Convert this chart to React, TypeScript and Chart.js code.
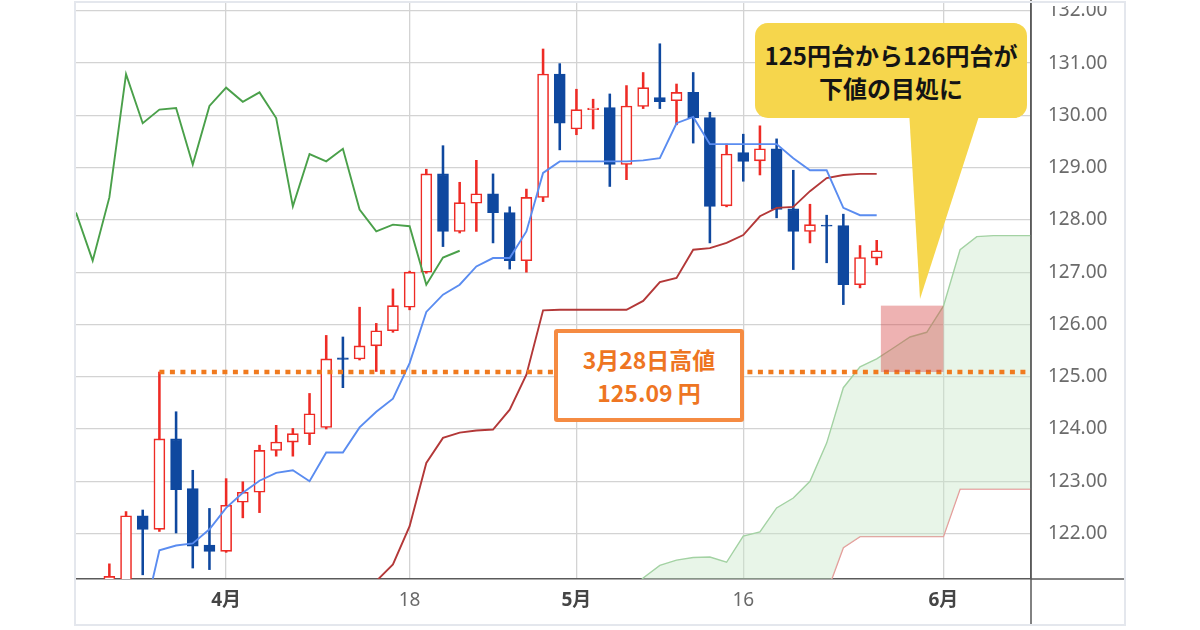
import { useEffect, useRef } from "react";
import { Chart, registerables } from "chart.js";

Chart.register(...registerables);

// ---- data ----
const DATES = [
  "3/21", "3/22", "3/23", "3/24", "3/25", "3/28", "3/29", "3/30", "3/31", "4/1",
  "4/4", "4/5", "4/6", "4/7", "4/8", "4/11", "4/12", "4/13", "4/14", "4/15",
  "4/18", "4/19", "4/20", "4/21", "4/22", "4/25", "4/26", "4/27", "4/28", "4/29",
  "5/2", "5/3", "5/4", "5/5", "5/6", "5/9", "5/10", "5/11", "5/12", "5/13",
  "5/16", "5/17", "5/18", "5/19", "5/20", "5/23", "5/24", "5/25", "5/26", "5/27",
  "5/30", "5/31", "6/1", "6/2", "6/3", "6/6", "6/7", "6/8", "6/9",
];

const CANDLE_START = 2; // first candle: 3/23
const OPEN = [
  120.9, 121.1, 122.34, 122.08, 123.81, 122.86, 121.78, 121.66, 122.6, 122.79,
  123.59, 123.75, 123.91, 124.03, 125.36, 125.34, 125.59, 125.88, 126.33, 127.0,
  128.88, 127.78, 128.32, 128.5, 128.14, 127.22, 128.43, 130.79, 129.74, 130.11,
  130.15, 129.06, 130.17, 130.34, 130.28, 130.44, 129.96, 128.27, 129.29, 129.13,
  129.36, 128.21, 127.78, 127.9, 127.89, 126.76, 127.27,
];
const HIGH = [
  121.42, 122.42, 122.45, 125.09, 124.33, 123.21, 122.48, 123.05, 122.99, 123.69,
  124.07, 124.01, 124.68, 125.79, 125.76, 126.33, 126.02, 126.68, 127.02, 128.97,
  129.42, 128.72, 129.14, 128.88, 128.25, 128.59, 131.27, 130.99, 130.5, 130.31,
  130.41, 130.57, 130.82, 131.37, 130.6, 130.82, 130.06, 129.45, 129.64, 129.8,
  129.55, 128.95, 128.3, 128.09, 128.11, 127.51, 127.61,
];
const LOW = [
  120.6, 120.9, 121.21, 122.04, 122.01, 121.34, 121.31, 121.64, 122.3, 122.4,
  123.48, 123.48, 123.7, 124.0, 124.79, 125.32, 125.1, 125.85, 126.28, 126.98,
  127.49, 127.75, 127.78, 127.56, 127.06, 127.0, 128.35, 129.34, 129.63, 129.74,
  128.64, 128.77, 130.13, 130.13, 129.82, 129.47, 127.56, 128.25, 128.74, 128.86,
  128.04, 127.05, 127.56, 127.18, 126.38, 126.7, 127.14,
];
const CLOSE = [
  121.18, 122.34, 122.08, 123.81, 122.84, 121.76, 121.66, 122.54, 122.79, 123.59,
  123.75, 123.91, 124.29, 125.34, 125.33, 125.59, 125.88, 126.36, 127.0, 128.88,
  127.78, 128.33, 128.5, 128.14, 127.22, 128.43, 130.79, 129.85, 130.11, 130.14,
  129.06, 130.18, 130.53, 130.26, 130.44, 129.95, 128.26, 129.26, 129.12, 129.36,
  128.2, 127.78, 127.91, 127.88, 126.76, 127.28, 127.41,
];

const TENKAN_START = 2;
const TENKAN = [
  119.9, 120.0, 120.3, 121.68, 121.77, 121.81, 122.08, 122.49, 122.78, 123.01,
  123.16, 123.21, 123.0, 123.55, 123.55, 124.03, 124.33, 124.58, 125.26, 126.24,
  126.57, 126.76, 127.11, 127.27, 127.27, 127.78, 128.9, 129.12, 129.12, 129.12,
  129.12, 129.12, 129.14, 129.18, 129.85, 129.97, 129.45, 129.45, 129.45, 129.45,
  129.45, 129.18, 128.95, 128.95, 128.23, 128.09, 128.09,
];

const KIJUN_START = 17;
const KIJUN = [
  120.5, 121.09, 121.41, 122.14, 123.35, 123.83, 123.93, 123.97, 123.99, 124.37,
  125.04, 126.27, 126.28, 126.28, 126.28, 126.28, 126.28, 126.45, 126.81, 126.89,
  127.43, 127.46, 127.56, 127.71, 128.07, 128.23, 128.25, 128.55, 128.8, 128.86,
  128.88, 128.88,
];

const CHIKOU_SHIFT = 25;

const SPAN_START = 30;
const SENKOU_A = [
  120.0, 120.3, 120.5, 120.8, 121.15, 121.39, 121.49, 121.54, 121.55, 121.45,
  121.95, 122.03, 122.49, 122.68, 123.0, 123.73, 124.79, 125.19, 125.34, 125.55,
  125.76, 125.85, 126.35, 127.43, 127.68, 127.7, 127.7, 127.7, 127.7,
];
const SENKOU_B = [
  120.0, 120.0, 120.0, 120.0, 120.0, 120.0, 120.0, 120.0, 120.0, 120.0,
  120.0, 120.0, 120.0, 120.0, 120.0, 120.86, 121.73, 121.94, 121.94, 121.94,
  121.94, 121.94, 121.94, 122.85, 122.85, 122.85, 122.85, 122.85, 122.85,
];

const Y_TICKS = [122, 123, 124, 125, 126, 127, 128, 129, 130, 131, 132];
const X_TICK_DATES = ["4/1", "4/18", "5/2", "5/16", "6/1"];
const X_TICK_LABELS = ["4月", "18", "5月", "16", "6月"];

const HIGH_MARK = 125.09;
const HIGH_MARK_DATE = "3/28";
const ZONE_X = [48.25, 52];
const ZONE_Y = [125.09, 126.36];

const Y_MIN = 121.13;
const Y_MAX = 132.15;
const X_MIN = 0;
const X_MAX = 57.25;

// ---- styles ----
const RED = "#ee2b25";
const BLUE = "#0f489f";
const AXIS = "#5a5a5a";
const GRID = "#d3d3d3";

export default function App() {
  const ref = useRef<HTMLCanvasElement>(null);

  useEffect(() => {
    const xs = OPEN.map((_, i) => i + CANDLE_START);
    const up = OPEN.map((o, i) => CLOSE[i] >= o);
    const wickData = xs.map((x, i) => ({ x, y: [LOW[i], HIGH[i]] }));
    const bodyData = xs.map((x, i) => ({ x, y: [OPEN[i], CLOSE[i]] }));
    const tenkan = TENKAN.map((v, i) => ({ x: i + TENKAN_START, y: v }));
    const kijun = KIJUN.map((v, i) => ({ x: i + KIJUN_START, y: v }));
    const chikou = CLOSE.map((c, i) => ({ x: i + CANDLE_START - CHIKOU_SHIFT, y: c })).filter(
      (p) => p.x >= 0
    );
    const spanA = SENKOU_A.map((v, i) => ({ x: i + SPAN_START, y: v }));
    const spanB = SENKOU_B.map((v, i) => ({ x: i + SPAN_START, y: v }));
    const markX = DATES.indexOf(HIGH_MARK_DATE);
    const markLine = [
      { x: markX, y: HIGH_MARK },
      { x: X_MAX + 1, y: HIGH_MARK },
    ];
    const xTickIdx = X_TICK_DATES.map((d) => DATES.indexOf(d));

    const overlay = {
      id: "overlay",
      afterDatasetsDraw(chart: any) {
        const { ctx, scales } = chart;
        const x0 = scales.x.getPixelForValue(ZONE_X[0]);
        const x1 = scales.x.getPixelForValue(ZONE_X[1]);
        const y0 = scales.y.getPixelForValue(ZONE_Y[1]);
        const y1 = scales.y.getPixelForValue(ZONE_Y[0]);
        ctx.save();
        ctx.fillStyle = "rgba(214,72,72,0.42)";
        ctx.fillRect(x0, y0, x1 - x0, y1 - y0);
        ctx.restore();
      },
      afterDraw(chart: any) {
        const { ctx, chartArea } = chart;
        ctx.save();
        ctx.strokeStyle = AXIS;
        ctx.lineWidth = 1.5;
        ctx.beginPath();
        ctx.moveTo(chartArea.right, chartArea.bottom);
        ctx.lineTo(1125, chartArea.bottom);
        ctx.moveTo(chartArea.right, 0);
        ctx.lineTo(chartArea.right, 625);
        ctx.stroke();
        ctx.fillStyle = "#ffffff";
        ctx.fillRect(chartArea.right + 2, 0, 92, 6);
        ctx.restore();
      },
    };

    const tickFont = "'Noto Sans', 'Noto Sans CJK JP', sans-serif";

    const chart = new Chart(ref.current as HTMLCanvasElement, {
      type: "bar",
      data: {
        datasets: [
          {
            type: "line",
            data: markLine,
            borderColor: "#f07a1e",
            borderWidth: 4.5,
            borderDash: [5, 5.5],
            borderCapStyle: "butt",
            pointRadius: 0,
            order: 0,
          },
          {
            type: "line",
            data: tenkan,
            borderColor: "#5a8cf0",
            borderWidth: 1.9,
            pointRadius: 0,
            order: 1,
          },
          {
            type: "line",
            data: kijun,
            borderColor: "#b33838",
            borderWidth: 1.9,
            pointRadius: 0,
            order: 2,
          },
          {
            type: "line",
            data: chikou,
            borderColor: "#4aa04a",
            borderWidth: 1.9,
            pointRadius: 0,
            order: 3,
          },
          {
            type: "bar",
            data: bodyData,
            backgroundColor: up.map((u) => (u ? "#ffffff" : BLUE)),
            borderColor: up.map((u) => (u ? RED : BLUE)),
            borderWidth: 1.6,
            borderSkipped: false,
            barThickness: 11,
            grouped: false,
            order: 4,
          },
          {
            type: "bar",
            data: wickData,
            backgroundColor: up.map((u) => (u ? RED : BLUE)),
            borderWidth: 0,
            barThickness: 1.9,
            grouped: false,
            order: 5,
          },
          {
            type: "line",
            data: spanA,
            borderColor: "#a3d2a3",
            borderWidth: 1.4,
            pointRadius: 0,
            fill: { target: "+1", above: "rgba(200,230,200,0.42)", below: "rgba(240,200,200,0.42)" },
            order: 10,
          },
          {
            type: "line",
            data: spanB,
            borderColor: "#e69494",
            borderWidth: 1.4,
            pointRadius: 0,
            order: 11,
          },
        ] as any,
      },
      options: {
        responsive: false,
        animation: false,
        events: [],
        layout: { padding: { left: 76, top: 3, right: 0, bottom: 0 } },
        plugins: { legend: { display: false }, tooltip: { enabled: false } },
        scales: {
          x: {
            type: "linear",
            min: X_MIN,
            max: X_MAX,
            offset: false,
            afterFit: (s: any) => {
              s.height = 51;
              s.paddingLeft = 0;
              s.paddingRight = 0;
              s.paddingTop = 0;
              s.paddingBottom = 0;
            },
            afterBuildTicks: (s: any) => {
              s.ticks = xTickIdx.map((v) => ({ value: v }));
            },
            grid: { color: GRID, lineWidth: 1.3, drawTicks: false, offset: false },
            border: { display: true, color: AXIS, width: 1.5 },
            ticks: {
              autoSkip: false,
              maxRotation: 0,
              padding: 10,
              callback: (v: any) => X_TICK_LABELS[xTickIdx.indexOf(Number(v))] ?? "",
              color: (c: any) => (X_TICK_LABELS[c.index]?.includes("月") ? "#454545" : "#6a6a6a"),
              font: (c: any) => ({
                family: tickFont,
                size: 19,
                weight: X_TICK_LABELS[c.index]?.includes("月") ? "bold" : "normal",
              }),
            },
          },
          y: {
            type: "linear",
            position: "right",
            min: Y_MIN,
            max: Y_MAX,
            afterFit: (s: any) => {
              s.width = 169;
              s.paddingTop = 0;
              s.paddingBottom = 0;
              s.paddingLeft = 0;
              s.paddingRight = 0;
            },
            afterBuildTicks: (s: any) => {
              s.ticks = Y_TICKS.map((v) => ({ value: v }));
            },
            grid: { color: GRID, lineWidth: 1.3, drawTicks: false },
            border: { display: true, color: AXIS, width: 1.5 },
            ticks: {
              padding: 17,
              color: "#6b6b6b",
              font: { family: tickFont, size: 19 },
              callback: (v: any) => Number(v).toFixed(2),
            },
          },
        },
      } as any,
      plugins: [overlay],
    });
    return () => chart.destroy();
  }, []);

  const jp = "'Noto Sans CJK JP', sans-serif";

  return (
    <div
      style={{
        position: "fixed",
        left: 0,
        top: 0,
        width: 1200,
        height: 630,
        background: "#ffffff",
        overflow: "hidden",
      }}
    >
      <canvas
        ref={ref}
        width={1200}
        height={630}
        style={{ position: "absolute", left: 0, top: 0, width: 1200, height: 630 }}
      />
      <div
        style={{
          position: "absolute",
          left: 74,
          top: 1,
          width: 1052,
          height: 625,
          border: "2.5px solid #e4e7ed",
          boxSizing: "border-box",
          pointerEvents: "none",
        }}
      />
      <svg
        width={1200}
        height={630}
        style={{ position: "absolute", left: 0, top: 0, pointerEvents: "none" }}
      >
        <polygon points="909,110 981,110 920,299" fill="#f6d64c" />
      </svg>
      <div
        style={{
          position: "absolute",
          left: 755,
          top: 23,
          width: 272,
          height: 95,
          borderRadius: 13,
          background: "#f6d64c",
          display: "flex",
          flexDirection: "column",
          justifyContent: "center",
          alignItems: "center",
          fontFamily: jp,
          fontWeight: 700,
          fontSize: 24,
          lineHeight: "33px",
          color: "#141414",
          whiteSpace: "nowrap",
        }}
      >
        <div>125円台から126円台が</div>
        <div>下値の目処に</div>
      </div>
      <div
        style={{
          position: "absolute",
          left: 554,
          top: 329,
          width: 190,
          height: 93,
          border: "4px solid #f58b42",
          borderRadius: 3,
          background: "#ffffff",
          boxSizing: "border-box",
          display: "flex",
          flexDirection: "column",
          justifyContent: "center",
          alignItems: "center",
          fontFamily: jp,
          fontWeight: 700,
          fontSize: 23,
          lineHeight: "33px",
          color: "#ee7522",
          whiteSpace: "nowrap",
        }}
      >
        <div>3月28日高値</div>
        <div>125.09 円</div>
      </div>
    </div>
  );
}
